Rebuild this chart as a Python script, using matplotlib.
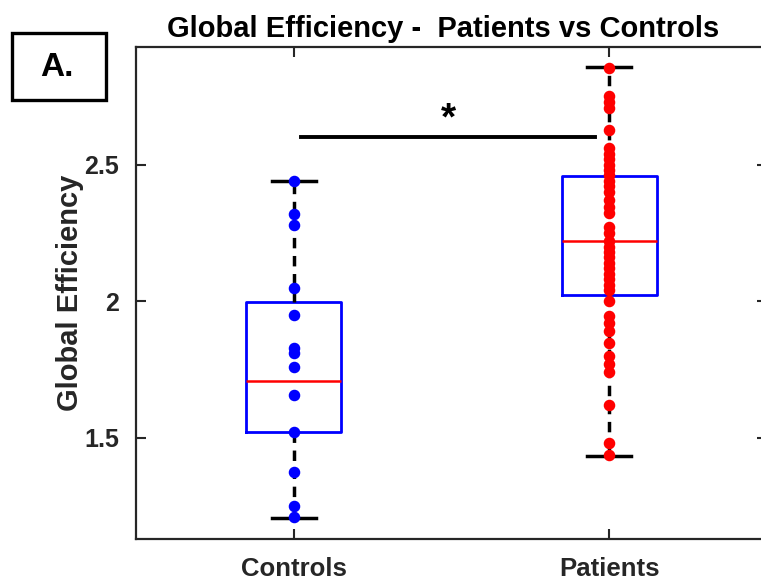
import matplotlib
matplotlib.use('Agg')
import matplotlib.pyplot as plt
from matplotlib.patches import Rectangle

plt.rcParams['font.family'] = ['Liberation Sans', 'DejaVu Sans']
plt.rcParams['font.weight'] = 'bold'

groups = ['Controls', 'Patients']
positions = [1, 2]

# box statistics
medians = [1.709, 2.219]
q1s = [1.522, 2.022]
q3s = [1.996, 2.457]
whis_lo = [1.207, 1.432]
whis_hi = [2.438, 2.858]

controls = [2.44, 2.32, 2.28, 2.05, 1.95, 1.83, 1.81, 1.76, 1.655,
            1.52, 1.375, 1.25, 1.21]
patients = [2.855, 2.75, 2.728, 2.705, 2.628, 2.56, 2.54, 2.52, 2.50,
            2.48, 2.46, 2.44, 2.42, 2.40, 2.37, 2.345, 2.323, 2.27, 2.25,
            2.22, 2.20, 2.18, 2.16, 2.14, 2.12, 2.10, 2.08, 2.06, 2.04,
            2.00, 1.946, 1.92, 1.89, 1.846, 1.80, 1.77, 1.74, 1.62, 1.48,
            1.437]

yticks = [1.5, 2, 2.5]
ytick_labels = ['1.5', '2', '2.5']

sig_x = [1.022, 1.956]
sig_y = 2.60
star_y = 2.665

fig = plt.figure(figsize=(7.61, 5.85), dpi=100)
ax = fig.add_axes([136 / 761, 46 / 585, 631 / 761, 492 / 585])

stats = []
for i in range(2):
    stats.append(dict(med=medians[i], q1=q1s[i], q3=q3s[i],
                      whislo=whis_lo[i], whishi=whis_hi[i], fliers=[]))

ax.bxp(stats, positions=positions, widths=0.3, capwidths=0.14,
       showfliers=False,
       boxprops=dict(color='#0000ff', linewidth=2.0),
       medianprops=dict(color='#ff0000', linewidth=1.8),
       whiskerprops=dict(color='black', linewidth=2.5, linestyle=(0, (3, 2.2))),
       capprops=dict(color='black', linewidth=2.5))

ax.plot([positions[0]] * len(controls), controls, 'o', color='#0000ff',
        markersize=7.3, zorder=5)
ax.plot([positions[1]] * len(patients), patients, 'o', color='#ff0000',
        markersize=7.3, zorder=5)

ax.plot(sig_x, [sig_y, sig_y], color='black', linewidth=2.8)
ax.text(sum(sig_x) / 2, star_y, '*', fontsize=28, ha='center', va='center')

ax.set_xlim(0.5, 2.5)
ax.set_ylim(1.13, 2.93)
ax.set_xticks(positions)
ax.set_xticklabels(groups, fontsize=18.5, fontweight='bold')
ax.set_yticks(yticks)
ax.set_yticklabels(ytick_labels, fontsize=18, fontweight='bold')
ax.tick_params(direction='in', length=7, width=1.5, top=True, right=True,
               colors='#262626')
ax.tick_params(axis='y', pad=12)
ax.tick_params(axis='x', pad=13)
for s in ax.spines.values():
    s.set_linewidth(1.6)
    s.set_color('#262626')

ax.set_ylabel('Global Efficiency', fontsize=21, fontweight='bold',
              color='#262626', labelpad=0)
ax.set_title('Global Efficiency -  Patients vs Controls', fontsize=21,
             fontweight='bold', pad=7, x=(443 - 136) / 631)

fig.patches.append(Rectangle((12 / 761, 1 - 100 / 585), 94 / 761, 67 / 585,
                             transform=fig.transFigure, fill=False,
                             edgecolor='black', linewidth=2.4))
fig.text(57 / 761, 1 - 67 / 585, 'A.', fontsize=24, fontweight='bold',
         ha='center', va='center')

fig.savefig('out.png', dpi=100)
